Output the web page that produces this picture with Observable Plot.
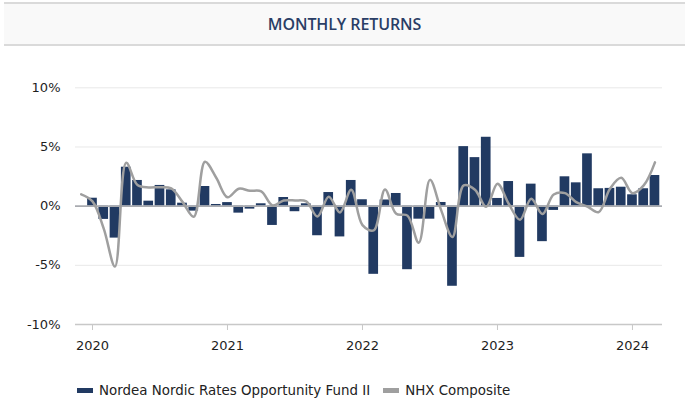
<!DOCTYPE html>
<html>
<head>
<meta charset="utf-8">
<script src="https://cdn.jsdelivr.net/npm/d3@7"></script>
<script src="https://cdn.jsdelivr.net/npm/@observablehq/plot@0.6"></script>
<style>
  html, body { margin: 0; padding: 0; background: #fff; }
  body { width: 685px; height: 402px; position: relative; overflow: hidden; font-family: "DejaVu Sans", Verdana, sans-serif; }
  #title { position: absolute; left: 4px; right: 0; top: 2px; height: 40px; background: #f9f9f9;
    border-top: 2px solid #dadada; border-bottom: 2px solid #dadada;
    font-family: "Open Sans", sans-serif; font-weight: 600; font-size: 16px; color: #2a3e66;
    display: flex; align-items: center; justify-content: center; letter-spacing: -0.1px; }
  #chart { position: absolute; left: 0; top: 46px; }
  #legend { position: absolute; left: 77px; top: 383px; display: flex; align-items: center;
    font-family: "DejaVu Sans", sans-serif; font-size: 13.4px; color: #222; }
  .item { display: flex; align-items: center; margin-right: 13px; }
  .sw { width: 16px; height: 5px; margin-right: 6px; }
  #chart g[aria-label="x-axis tick"] path, #chart g[aria-label="x-axis"] line { stroke: #c8c8c8; }
</style>
</head>
<body>
<div id="title">MONTHLY RETURNS</div>
<div id="chart"></div>
<div id="legend"></div>
<script>
// Fund monthly returns (%), Jan 2020 – Mar 2024
const fundName = "Nordea Nordic Rates Opportunity Fund II";
const benchName = "NHX Composite";
const fundValues = [
  0.67, -1.12, -2.7, 3.29, 2.17, 0.42, 1.75, 1.38, 0.25, -0.42, 1.66, 0.14,
  0.3, -0.59, -0.25, 0.2, -1.63, 0.73, -0.47, 0.2, -2.5, 1.15, -2.6, 2.17,
  0.54, -5.76, 0.52, 1.07, -5.37, -1.1, -1.1, 0.31, -6.77, 5.03, 4.1, 5.82,
  0.65, 2.08, -4.33, 1.86, -3.0, -0.36, 2.48, 1.97, 4.42, 1.47, 1.5, 1.6,
  0.96, 1.47, 2.59
];
// Benchmark monthly returns (%), Dec 2019 – Mar 2024
const benchValues = [
  1.0,
  0.4, -1.9, -5.1, 3.66, 1.78, 1.58, 1.6, 1.5, 0.36, -0.9, 3.75, 2.4,
  0.75, 1.47, 1.3, 1.25, 0.06, 0.48, 0.48, 0.4, -0.87, 0.8, -0.53, 1.38,
  -1.6, -2.05, 1.4, -0.65, -0.8, -3.09, 2.22, -0.36, -2.6, 1.75, 1.38, -0.06,
  1.89, 0.2, -1.15, 0.62, -0.67, 0.98, 1.1, 0.34, -0.03, -0.5, 1.47, 2.39,
  1.1, 1.75, 3.7
];
const yTicks = [-10, -5, 0, 5, 10];
const yearLabels = [2020, 2021, 2022, 2023, 2024];

const fundColor = "#213a62";
const benchColor = "#9f9f9f";

// month index: 0 = Jan 2020
const fundData = fundValues.map((v, i) => ({ i, v }));
const benchData = benchValues.map((v, k) => ({ i: k - 1, v }));
const yearTickPos = yearLabels.map((y) => (y - 2020) * 12);

const chart = Plot.plot({
  width: 685,
  height: 310,
  marginLeft: 75,
  marginRight: 23,
  marginTop: 41.3,
  marginBottom: 32,
  style: { fontFamily: "DejaVu Sans, sans-serif", fontSize: "13px", color: "#1e1e1e", background: "transparent" },
  x: {
    type: "linear",
    domain: [-1.51, 50.67],
    ticks: yearTickPos,
    tickFormat: (i) => String(yearLabels[Math.round(i / 12)]),
    tickSize: 6,
    tickPadding: 10,
    label: null
  },
  y: {
    domain: [-10, 10],
    ticks: yTicks,
    tickFormat: (d) => d + "%",
    tickSize: 0,
    tickPadding: 15,
    label: null
  },
  marks: [
    Plot.ruleY(yTicks.filter((t) => t !== -10 && t !== 0), { stroke: "#e8e8e8", strokeWidth: 1 }),
    Plot.ruleY([-10], { stroke: "#c8c8c8", strokeWidth: 1.5 }),
    Plot.rectY(fundData, {
      x1: (d) => d.i - 0.43,
      x2: (d) => d.i + 0.43,
      y1: 0,
      y2: "v",
      fill: fundColor
    }),
    Plot.ruleY([0], { stroke: "#a9abb0", strokeWidth: 1.6 }),
    Plot.line(benchData, {
      x: "i",
      y: "v",
      curve: "catmull-rom",
      stroke: benchColor,
      strokeWidth: 2.5
    })
  ]
});
document.getElementById("chart").appendChild(chart);

const legend = document.getElementById("legend");
[[fundName, fundColor], [benchName, benchColor]].forEach(([name, color]) => {
  const item = document.createElement("div");
  item.className = "item";
  const sw = document.createElement("div");
  sw.className = "sw";
  sw.style.background = color;
  const t = document.createElement("span");
  t.textContent = name;
  item.appendChild(sw);
  item.appendChild(t);
  legend.appendChild(item);
});
</script>
</body>
</html>
